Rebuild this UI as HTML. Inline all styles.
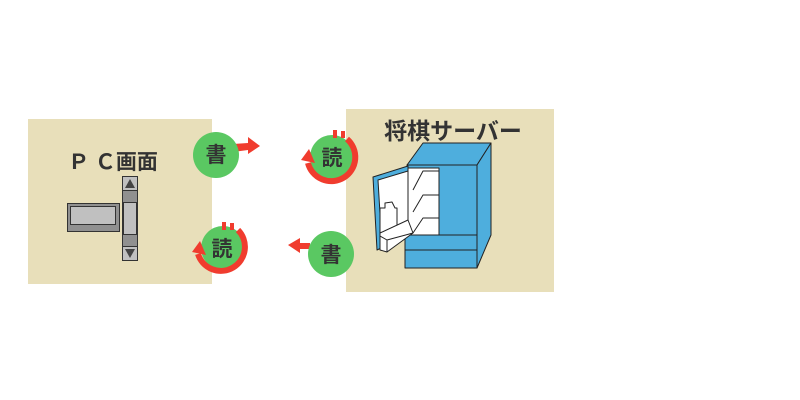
<!DOCTYPE html>
<html><head><meta charset="utf-8"><style>
html,body{margin:0;padding:0;background:#fff;width:800px;height:400px;overflow:hidden}
</style></head><body>
<svg width="800" height="400" xmlns="http://www.w3.org/2000/svg" font-family="'Liberation Sans','Noto Sans CJK JP',sans-serif">
<rect x="28" y="119" width="184" height="165" fill="#e8dfba"/>
<rect x="346" y="109" width="208" height="183" fill="#e8dfba"/>
<text x="113" y="169" font-size="21" font-weight="bold" fill="#333" text-anchor="middle">Ｐ Ｃ画面</text>
<text x="453" y="139" font-size="23" font-weight="bold" fill="#333" text-anchor="middle">将棋サーバー</text>
<!-- window -->
<rect x="67.5" y="203.5" width="52" height="28" fill="#909090" stroke="#333"/>
<rect x="70.5" y="206.5" width="45" height="18" fill="#c0c0c0" stroke="#333"/>
<!-- scrollbar -->
<rect x="122.5" y="176.5" width="15" height="84" fill="#909090" stroke="#333"/>
<rect x="122.5" y="176.5" width="15" height="14" fill="#c0c0c0" stroke="#333"/>
<rect x="122.5" y="246.5" width="15" height="14" fill="#c0c0c0" stroke="#333"/>
<rect x="123.5" y="202.5" width="13" height="32" fill="#c0c0c0" stroke="#333"/>
<polygon points="130,179 125,188 135,188" fill="#444"/>
<polygon points="130,258 125,249 135,249" fill="#444"/>
<!-- fridge -->
<g stroke="#222" stroke-width="1" stroke-linejoin="round">
<polygon points="423,143 491,143 477,165 407,165" fill="#4eaedd"/>
<polygon points="477,165 491,143 491,235 477,268" fill="#4eaedd"/>
<rect x="407" y="165" width="70" height="70" fill="#4eaedd"/>
<rect x="408" y="168" width="31" height="67" fill="#fff"/>
<polyline points="413,190 423,171 439,171" fill="none"/>
<polyline points="413,212 423,195 439,195" fill="none"/>
<polyline points="413,233 423,218 439,218" fill="none"/>
<rect x="405" y="235" width="72" height="33" fill="#4eaedd"/>
<line x1="405" y1="250" x2="477" y2="250"/>
<polygon points="373,177 408,166 408,235 377,250" fill="#4eaedd"/>
<polygon points="378,180 408,171 408,232 382,247" fill="#fff"/>
<polygon points="385,203 392,202 395,208 397,208 397,233 380,233 380,208 385,208" fill="#fff"/>
<polygon points="380,233 408,220 413,233 387,252 380,250" fill="#fff"/>
<polyline points="387,252 387,240 413,233" fill="none"/>
<line x1="380" y1="236" x2="387" y2="240"/>
</g>
<!-- arrows -->
<g fill="#f03c2e">
<polygon points="233,144 248,143 248,137 260,146 248,154 248,150 233,152"/>
<polygon points="288,245 300,238 300,243 310,243 310,249 300,249 300,253"/>
</g>
<circle cx="216" cy="155" r="23" fill="#5ac862"/>
<circle cx="331" cy="254" r="23" fill="#5ac862"/>
<circle cx="332" cy="157" r="22" fill="#5ac862"/>
<circle cx="223" cy="248" r="22" fill="#5ac862"/>
<g fill="none" stroke="#f03c2e" stroke-width="6">
<path d="M347,139 A24,24 0 1 1 308,163"/>
<path d="M238,230 A24,24 0 1 1 198,254"/>
</g>
<g fill="#f03c2e">
<polygon points="301,160 309,149 315,163"/>
<polygon points="192,252 200,241 206,255"/>
<rect x="333" y="130" width="4" height="8"/><rect x="341" y="131" width="4" height="7"/>
<rect x="222" y="222" width="4" height="8"/><rect x="230" y="223" width="4" height="7"/>
</g>
<g font-size="21" font-weight="bold" fill="#333" text-anchor="middle">
<text x="216" y="162">書</text>
<text x="331" y="262">書</text>
<text x="332" y="165">読</text>
<text x="222" y="256">読</text>
</g>
</svg>
</body></html>
